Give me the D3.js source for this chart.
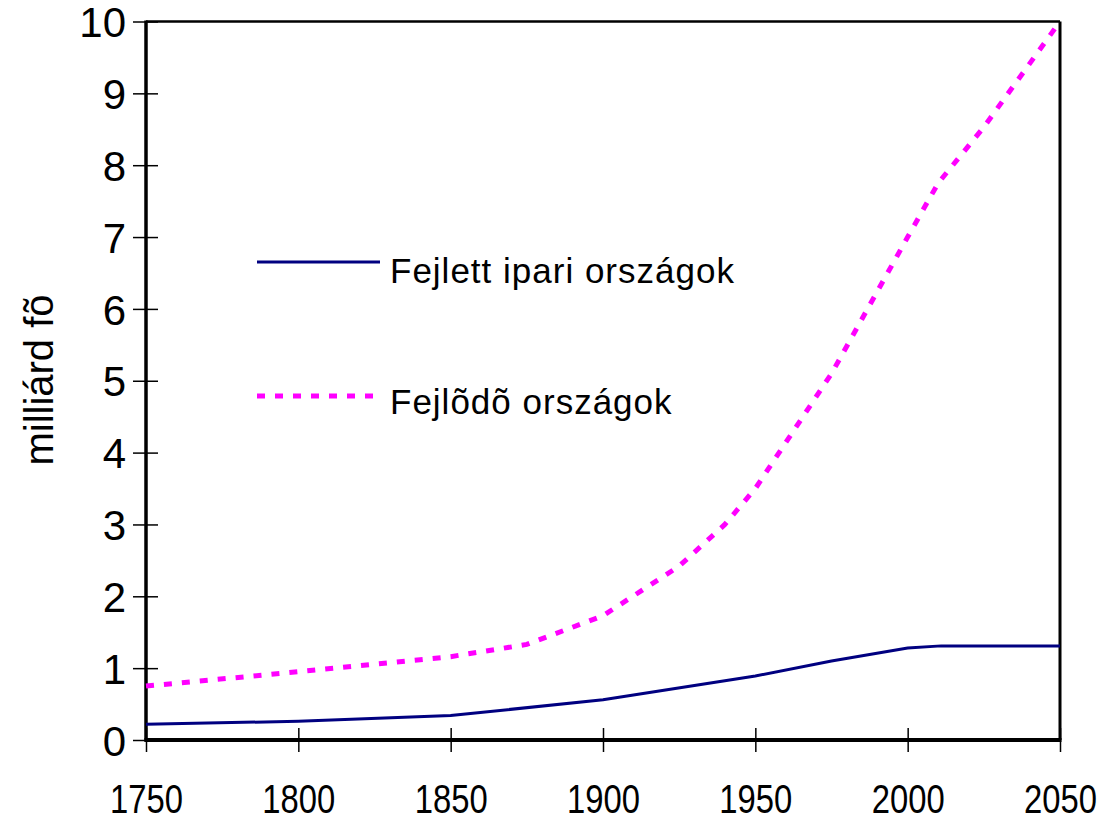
<!DOCTYPE html>
<html>
<head>
<meta charset="utf-8">
<script src="https://cdn.jsdelivr.net/npm/d3@7"></script>
<style>
  body { margin: 0; background: #fff; }
  text { font-family: "Liberation Sans", Arial, sans-serif; fill: #000; }
</style>
</head>
<body>
<div id="chart"></div>
<script>
(function() {
  "use strict";

  // years and values (milliárd fõ)
  var devYears = [1750, 1800, 1850, 1900, 1950, 1975, 2000, 2011, 2050];
  var devValues = [0.22, 0.26, 0.34, 0.56, 0.89, 1.10, 1.28, 1.31, 1.31];

  var dvgYears = [1750, 1800, 1850, 1875, 1900, 1925, 1940, 1950, 1975, 2000, 2010, 2025, 2050];
  var dvgValues = [0.75, 0.95, 1.16, 1.33, 1.73, 2.42, 3.0, 3.5, 5.1, 7.0, 7.75, 8.53, 10.0];

  var xTicks = [1750, 1800, 1850, 1900, 1950, 2000, 2050];
  var yTicks = [0, 1, 2, 3, 4, 5, 6, 7, 8, 9, 10];

  var seriesNames = ["Fejlett ipari országok", "Fejlõdõ országok"];
  var yTitle = "milliárd fõ";

  var width = 1106, height = 821;
  var left = 146, right = 1060, top = 21.5, bottom = 740;

  var svg = d3.select("#chart").append("svg")
    .attr("width", width)
    .attr("height", height);

  var x = d3.scaleLinear().domain([1750, 2050]).range([left, right]);
  var y = d3.scaleLinear().domain([0, 10]).range([bottom, top]);

  // frame: thin top/right, heavier left/bottom
  svg.append("line")
    .attr("x1", left).attr("x2", right).attr("y1", top).attr("y2", top)
    .attr("stroke", "#000").attr("stroke-width", 2.5);
  svg.append("line")
    .attr("x1", right).attr("x2", right).attr("y1", top).attr("y2", bottom)
    .attr("stroke", "#000").attr("stroke-width", 3);

  /* ------- AXES -------*/
  var yAxis = svg.append("g")
    .attr("transform", "translate(" + left + ",0)")
    .call(d3.axisLeft(y).tickValues(yTicks).tickSize(12).tickPadding(10)
      .tickFormat(d3.format("d")));
  yAxis.select(".domain").remove();
  yAxis.selectAll(".tick line")
    .attr("x1", 12).attr("x2", -13)
    .attr("stroke", "#000").attr("stroke-width", 1.5);
  yAxis.selectAll(".tick text")
    .attr("font-size", 42)
    .attr("dy", "0.36em")
    .attr("x", -20);

  var xAxis = svg.append("g")
    .attr("transform", "translate(0," + bottom + ")")
    .call(d3.axisBottom(x).tickValues(xTicks).tickSize(12)
      .tickFormat(d3.format("d")));
  xAxis.select(".domain").remove();
  xAxis.selectAll(".tick line")
    .attr("y1", -12).attr("y2", 12)
    .attr("stroke", "#000").attr("stroke-width", 1.5);
  xAxis.selectAll(".tick text")
    .attr("font-size", 41)
    .attr("y", 73)
    .attr("dy", 0)
    .attr("transform", "scale(0.8,1)");

  svg.append("line")
    .attr("x1", left).attr("x2", left).attr("y1", top - 1).attr("y2", bottom + 1.5)
    .attr("stroke", "#000").attr("stroke-width", 3.5);
  svg.append("line")
    .attr("x1", left - 1.5).attr("x2", right + 1.5).attr("y1", bottom).attr("y2", bottom)
    .attr("stroke", "#000").attr("stroke-width", 4);

  svg.append("text")
    .attr("transform", "translate(53,380) rotate(-90)")
    .attr("text-anchor", "middle")
    .attr("font-size", 40)
    .text(yTitle);

  /* ------- LINES -------*/
  var line = d3.line()
    .x(function(d) { return x(d[0]); })
    .y(function(d) { return y(d[1]); });

  var devData = d3.zip(devYears, devValues);
  var dvgData = d3.zip(dvgYears, dvgValues);

  svg.append("path")
    .datum(devData)
    .attr("d", line)
    .attr("fill", "none")
    .attr("stroke", "#000080")
    .attr("stroke-width", 3);

  svg.append("path")
    .datum(dvgData)
    .attr("d", line)
    .attr("fill", "none")
    .attr("stroke", "#ff00ff")
    .attr("stroke-width", 5)
    .attr("stroke-dasharray", "8,10");

  /* ------- LEGEND -------*/
  var legend = svg.append("g");

  legend.append("line")
    .attr("x1", 257).attr("x2", 380).attr("y1", 262).attr("y2", 262)
    .attr("stroke", "#000080").attr("stroke-width", 3);
  legend.append("text")
    .attr("x", 390).attr("y", 283)
    .attr("font-size", 35)
    .attr("letter-spacing", 1)
    .text(seriesNames[0]);

  legend.append("line")
    .attr("x1", 257).attr("x2", 376).attr("y1", 396).attr("y2", 396)
    .attr("stroke", "#ff00ff").attr("stroke-width", 5)
    .attr("stroke-dasharray", "8,10");
  legend.append("text")
    .attr("x", 390).attr("y", 414)
    .attr("font-size", 35)
    .attr("letter-spacing", 1)
    .text(seriesNames[1]);
})();
</script>
</body>
</html>
